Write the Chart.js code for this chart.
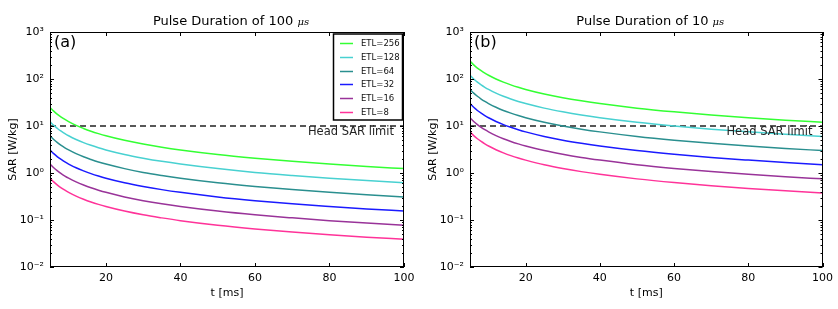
<!DOCTYPE html>
<html>
<head>
<meta charset="utf-8">
<script src="https://cdn.jsdelivr.net/npm/chart.js@4/dist/chart.umd.min.js"></script>
<style>
	body { margin: 0; background: #fff; }
	.panel { position: absolute; top: 0; height: 309px; }
</style>
</head>
<body>
<div class="panel" style="left:0;width:420px"><canvas id="chart-sar-100"></canvas></div>
<div class="panel" style="left:420px;width:418px"><canvas id="chart-sar-10"></canvas></div>
<script>
// echo time t [ms]
const T_MS = [5, 6, 7, 8, 9, 10, 12, 14, 16, 18, 20, 25, 30, 35, 40, 50, 60, 70, 80, 90, 100];

const ETL_LABELS = ["ETL=256", "ETL=128", "ETL=64", "ETL=32", "ETL=16", "ETL=8"];
const ETL_COLORS = ["#33ff33", "#48d1d1", "#2a8f8f", "#1a1aff", "#993399", "#ff3399"];

// SAR [W/kg], pulse duration 100 us
const SAR_100_ETL256 = [24.8, 20.7, 17.7, 15.5, 13.8, 12.4, 10.3, 8.86, 7.75, 6.89, 6.2, 4.96, 4.13, 3.54, 3.1, 2.48, 2.07, 1.77, 1.55, 1.38, 1.24];
const SAR_100_ETL128 = [12.4, 10.3, 8.86, 7.75, 6.89, 6.2, 5.17, 4.43, 3.88, 3.44, 3.1, 2.48, 2.07, 1.77, 1.55, 1.24, 1.03, 0.886, 0.775, 0.689, 0.62];
const SAR_100_ETL64 = [6.2, 5.17, 4.43, 3.88, 3.44, 3.1, 2.58, 2.21, 1.94, 1.72, 1.55, 1.24, 1.03, 0.886, 0.775, 0.62, 0.517, 0.443, 0.388, 0.344, 0.31];
const SAR_100_ETL32 = [3.1, 2.58, 2.21, 1.94, 1.72, 1.55, 1.29, 1.11, 0.969, 0.861, 0.775, 0.62, 0.517, 0.443, 0.388, 0.31, 0.258, 0.221, 0.194, 0.172, 0.155];
const SAR_100_ETL16 = [1.55, 1.29, 1.11, 0.969, 0.861, 0.775, 0.646, 0.554, 0.484, 0.431, 0.388, 0.31, 0.258, 0.221, 0.194, 0.155, 0.129, 0.111, 0.0969, 0.0861, 0.0775];
const SAR_100_ETL8 = [0.775, 0.646, 0.554, 0.484, 0.431, 0.388, 0.323, 0.277, 0.242, 0.215, 0.194, 0.155, 0.129, 0.111, 0.0969, 0.0775, 0.0646, 0.0554, 0.0484, 0.0431, 0.0388];

// SAR [W/kg], pulse duration 10 us
const SAR_10_ETL256 = [240, 200, 171, 150, 133, 120, 100, 85.7, 75, 66.7, 60, 48, 40, 34.3, 30, 24, 20, 17.1, 15, 13.3, 12];
const SAR_10_ETL128 = [120, 100, 85.7, 75, 66.7, 60, 50, 42.9, 37.5, 33.3, 30, 24, 20, 17.1, 15, 12, 10, 8.57, 7.5, 6.67, 6];
const SAR_10_ETL64 = [60, 50, 42.9, 37.5, 33.3, 30, 25, 21.4, 18.8, 16.7, 15, 12, 10, 8.57, 7.5, 6, 5, 4.29, 3.75, 3.33, 3];
const SAR_10_ETL32 = [30, 25, 21.4, 18.8, 16.7, 15, 12.5, 10.7, 9.38, 8.33, 7.5, 6, 5, 4.29, 3.75, 3, 2.5, 2.14, 1.88, 1.67, 1.5];
const SAR_10_ETL16 = [15, 12.5, 10.7, 9.38, 8.33, 7.5, 6.25, 5.36, 4.69, 4.17, 3.75, 3, 2.5, 2.14, 1.88, 1.5, 1.25, 1.07, 0.938, 0.833, 0.75];
const SAR_10_ETL8 = [7.5, 6.25, 5.36, 4.69, 4.17, 3.75, 3.13, 2.68, 2.34, 2.08, 1.88, 1.5, 1.25, 1.07, 0.938, 0.75, 0.625, 0.536, 0.469, 0.417, 0.375];

const HEAD_SAR_LIMIT = 10;
const X_RANGE = [5, 100];
const X_TICKS = [20, 40, 60, 80, 100];
const Y_TICKS = [0.01, 0.1, 1, 10, 100, 1000];
const Y_TICK_LABELS = ["10\u207B\u00B2", "10\u207B\u00B9", "10\u2070", "10\u00B9", "10\u00B2", "10\u00B3"];

const FONT = "'DejaVu Sans', sans-serif";

//---------------------------------------------------------
// Helpers
//---------------------------------------------------------

const toPoints = (values) => values.map((v, i) => ({ x: T_MS[i], y: v }));

const seriesDatasets = (seriesList) =>
	seriesList.map((values, i) => ({
		label: ETL_LABELS[i],
		data: toPoints(values),
		borderColor: ETL_COLORS[i],
		borderWidth: 1.5,
		cubicInterpolationMode: "monotone",
		pointRadius: 0,
		fill: false,
	}));

const limitDataset = {
	label: "Head SAR limit",
	data: [
		{ x: X_RANGE[0], y: HEAD_SAR_LIMIT },
		{ x: X_RANGE[1], y: HEAD_SAR_LIMIT },
	],
	borderColor: "#222",
	borderWidth: 1.4,
	borderDash: [6, 4],
	pointRadius: 0,
	fill: false,
};

// Box, inward ticks, title and annotations in matplotlib style
const framePlugin = {
	id: "frame",
	afterDraw(chart, args, opts) {
		const { ctx, chartArea: a, scales } = chart;
		const xs = scales.x;
		const ys = scales.y;
		ctx.save();
		ctx.strokeStyle = "#000";
		ctx.lineWidth = 1;
		ctx.strokeRect(Math.round(a.left) + 0.5, Math.round(a.top) + 0.5, Math.round(a.width) - 1, Math.round(a.height) - 1);

		ctx.beginPath();
		X_TICKS.forEach((t) => {
			const px = Math.round(xs.getPixelForValue(t)) + 0.5;
			ctx.moveTo(px, a.bottom);
			ctx.lineTo(px, a.bottom - 4);
			ctx.moveTo(px, a.top);
			ctx.lineTo(px, a.top + 4);
		});
		for (let e = -2; e <= 3; e++) {
			for (let k = 1; k <= 9; k++) {
				const v = k * Math.pow(10, e);
				if (v > 1000) break;
				const py = Math.round(ys.getPixelForValue(v)) + 0.5;
				const len = k === 1 ? 4 : 2;
				ctx.moveTo(a.left, py);
				ctx.lineTo(a.left + len, py);
				ctx.moveTo(a.right, py);
				ctx.lineTo(a.right - len, py);
			}
		}
		ctx.stroke();

		// Title
		const cx = (a.left + a.right) / 2;
		const main = opts.title;
		ctx.font = "13px " + FONT;
		const w1 = ctx.measureText(main).width;
		ctx.font = "italic 10px 'DejaVu Serif', serif";
		const w2 = ctx.measureText("\u03BCs").width;
		const x0 = cx - (w1 + w2) / 2 + 4;
		ctx.fillStyle = "#000";
		ctx.textBaseline = "alphabetic";
		ctx.textAlign = "left";
		ctx.font = "13px " + FONT;
		ctx.fillText(main, x0, 25);
		ctx.font = "italic 10px 'DejaVu Serif', serif";
		ctx.fillText("\u03BCs", x0 + w1, 25);

		// Panel letter
		ctx.font = "16px " + FONT;
		ctx.textBaseline = "middle";
		ctx.fillText(opts.letter, a.left + 4, a.top + 11);

		// Limit annotation
		ctx.font = "11.5px " + FONT;
		ctx.textAlign = "right";
		ctx.fillStyle = "#222";
		ctx.fillText(limitDataset.label, a.right - 10, ys.getPixelForValue(HEAD_SAR_LIMIT) + 6);

		// Legend
		if (opts.legend) {
			const items = chart.data.datasets.filter((d) => ETL_LABELS.includes(d.label));
			const bx = a.right - 71;
			const by = a.top + 1.5;
			const bw = 69;
			const bh = 86;
			ctx.fillStyle = "#fff";
			ctx.fillRect(bx, by, bw, bh);
			ctx.strokeStyle = "#000";
			ctx.lineWidth = 1.5;
			ctx.strokeRect(bx + 0.5, by + 0.5, bw, bh);
			ctx.font = "8.5px " + FONT;
			ctx.textAlign = "left";
			ctx.textBaseline = "middle";
			items.forEach((d, i) => {
				const ry = Math.round(by + 9.5 + i * 13.8) + 0.5;
				ctx.strokeStyle = d.borderColor;
				ctx.lineWidth = 1.5;
				ctx.beginPath();
				ctx.moveTo(bx + 7, ry);
				ctx.lineTo(bx + 20, ry);
				ctx.stroke();
				ctx.fillStyle = "#111";
				ctx.fillText(d.label, bx + 28, ry);
			});
		}
		ctx.restore();
	},
};

const makeChart = (canvasId, seriesList, frameOpts, rightPad) => {
	const el = document.getElementById(canvasId);
	if (!el) return null;
	return new Chart(el, {
		type: "line",
		data: {
			datasets: [...seriesDatasets(seriesList), limitDataset],
		},
		options: {
			animation: false,
			responsive: true,
			maintainAspectRatio: false,
			layout: {
				padding: { top: 32, right: rightPad, bottom: 0, left: 0 },
			},
			scales: {
				x: {
					type: "linear",
					min: X_RANGE[0],
					max: X_RANGE[1],
					afterBuildTicks: (scale) => {
						scale.ticks = X_TICKS.map((v) => ({ value: v }));
					},
					afterFit: (scale) => {
						scale.height = 42;
					},
					grid: { display: false, drawTicks: false },
					border: { display: false },
					ticks: {
						color: "#000",
						font: { family: FONT, size: 11 },
						padding: 5,
						maxRotation: 0,
					},
					title: {
						display: true,
						text: "t [ms]",
						color: "#000",
						font: { family: FONT, size: 11 },
						padding: { top: 0, bottom: 9 },
					},
				},
				y: {
					type: "logarithmic",
					min: Y_TICKS[0],
					max: Y_TICKS[Y_TICKS.length - 1],
					afterBuildTicks: (scale) => {
						scale.ticks = Y_TICKS.map((v) => ({ value: v, major: true }));
					},
					afterFit: (scale) => {
						scale.width = 50;
					},
					grid: { display: false, drawTicks: false },
					border: { display: false },
					ticks: {
						color: "#000",
						font: { family: FONT, size: 11 },
						padding: 6,
						callback: (value) => {
							const idx = Y_TICKS.indexOf(value);
							return idx >= 0 ? Y_TICK_LABELS[idx] : "";
						},
					},
					title: {
						display: true,
						text: "SAR [W/kg]",
						color: "#000",
						font: { family: FONT, size: 11 },
						padding: { top: 7, bottom: 0 },
					},
				},
			},
			plugins: {
				legend: { display: false },
				tooltip: { enabled: false },
				frame: frameOpts,
			},
		},
		plugins: [framePlugin],
	});
};

makeChart(
	"chart-sar-100",
	[SAR_100_ETL256, SAR_100_ETL128, SAR_100_ETL64, SAR_100_ETL32, SAR_100_ETL16, SAR_100_ETL8],
	{ title: "Pulse Duration of 100 ", letter: "(a)", legend: true },
	16
);
makeChart(
	"chart-sar-10",
	[SAR_10_ETL256, SAR_10_ETL128, SAR_10_ETL64, SAR_10_ETL32, SAR_10_ETL16, SAR_10_ETL8],
	{ title: "Pulse Duration of 10 ", letter: "(b)", legend: false },
	15
);
</script>
</body>
</html>
